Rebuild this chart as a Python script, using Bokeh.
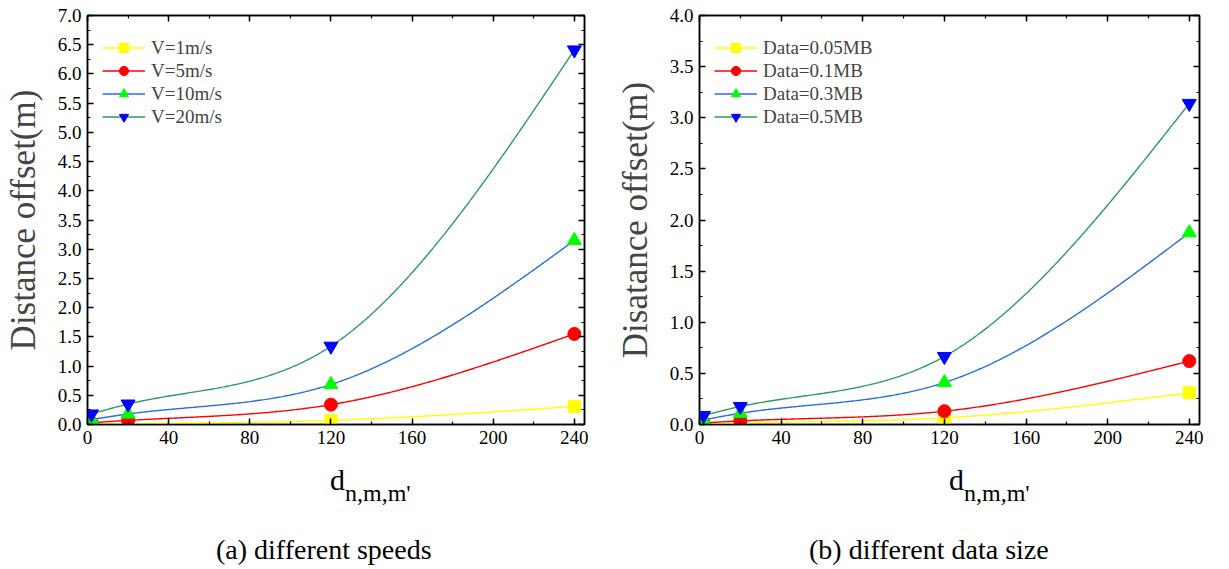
import numpy as np
from bokeh.plotting import figure
from bokeh.models import (LinearAxis, Range1d, Legend, LegendItem, Div,
                          SingleIntervalTicker, NumeralTickFormatter)
from bokeh.layouts import row, column
from bokeh.embed import file_html
from bokeh.resources import INLINE

# ---------------- data ----------------
x_vals = [2, 20, 120, 240]

speed_labels = ["V=1m/s", "V=5m/s", "V=10m/s", "V=20m/s"]
v1 = [0.005, 0.012, 0.07, 0.31]
v5 = [0.03, 0.07, 0.34, 1.55]
v10 = [0.085, 0.18, 0.685, 3.15]
v20 = [0.18, 0.35, 1.34, 6.41]

data_labels = ["Data=0.05MB", "Data=0.1MB", "Data=0.3MB", "Data=0.5MB"]
d005 = [0.005, 0.015, 0.065, 0.31]
d01 = [0.015, 0.035, 0.13, 0.62]
d03 = [0.045, 0.11, 0.41, 1.875]
d05 = [0.088, 0.176, 0.665, 3.14]

x_ticks_interval = 40
left_y_max = 7.0
right_y_max = 4.0

x_label_main = "d"
x_label_sub = "n,m,m'"
captions = ["(a) different speeds", "(b) different data size"]
y_labels = ["Distance offset(m)", "Disatance offset(m)"]

line_colors = ["#FFFF00", "#FF0000", "#2A6EE0", "#2E9B61"]
marker_colors = ["#FFFF00", "#FF0000", "#00FF00", "#0000FF"]
markers = ["square", "circle", "triangle", "inverted_triangle"]
marker_sizes = [12, 13, 14, 14]

FONT = "Liberation Serif"
FIG_H = 460
TOP = 15
FRAME_H = 409


def spline_path(xs, ys, n=300):
    """Natural cubic spline path through the data points (line rendering only)."""
    xs = np.asarray(xs, float)
    ys = np.asarray(ys, float)
    k = len(xs)
    h = np.diff(xs)
    A = np.zeros((k, k))
    b = np.zeros(k)
    A[0, 0] = A[-1, -1] = 1.0
    for i in range(1, k - 1):
        A[i, i - 1] = h[i - 1]
        A[i, i] = 2 * (h[i - 1] + h[i])
        A[i, i + 1] = h[i]
        b[i] = 3 * ((ys[i + 1] - ys[i]) / h[i] - (ys[i] - ys[i - 1]) / h[i - 1])
    c = np.linalg.solve(A, b)
    xx = np.linspace(xs[0], xs[-1], n)
    yy = np.empty_like(xx)
    for j, x in enumerate(xx):
        i = min(np.searchsorted(xs, x, side="right") - 1, k - 2)
        t = x - xs[i]
        bi = (ys[i + 1] - ys[i]) / h[i] - h[i] * (2 * c[i] + c[i + 1]) / 3
        di = (c[i + 1] - c[i]) / (3 * h[i])
        yy[j] = ys[i] + bi * t + c[i] * t ** 2 + di * t ** 3
    return xx, yy


def make_panel(series, labels, ymax, ylabel, width, border_left, border_right):
    p = figure(width=width, height=FIG_H, output_backend="svg",
               toolbar_location=None, x_range=Range1d(0, 245),
               y_range=Range1d(0, ymax),
               min_border_left=border_left, min_border_right=border_right,
               min_border_top=TOP, min_border_bottom=FIG_H - TOP - FRAME_H)
    p.grid.visible = False
    p.outline_line_color = "black"
    p.outline_line_width = 1.5
    p.background_fill_color = "white"
    p.border_fill_color = "white"

    def style(ax, labels_on=True):
        ax.axis_line_color = "black"
        ax.axis_line_width = 1.5
        ax.major_tick_in = 6
        ax.major_tick_out = 0
        ax.minor_tick_in = 3
        ax.minor_tick_out = 0
        ax.major_tick_line_width = 1.5
        ax.minor_tick_line_width = 1.2
        ax.major_tick_line_color = "black"
        ax.minor_tick_line_color = "black"
        ax.major_label_text_font = FONT
        if labels_on:
            ax.major_label_text_font_size = "19px"
            ax.major_label_text_color = "black"
        else:
            ax.major_label_text_font_size = "0px"
            ax.major_label_text_color = None

    p.xaxis.ticker = SingleIntervalTicker(interval=x_ticks_interval, num_minor_ticks=2)
    p.yaxis.ticker = SingleIntervalTicker(interval=0.5, num_minor_ticks=2)
    p.yaxis.formatter = NumeralTickFormatter(format="0.0")
    style(p.xaxis[0])
    style(p.yaxis[0])
    p.xaxis.major_label_standoff = 6
    p.yaxis.major_label_standoff = 6
    p.yaxis.axis_label = ylabel
    p.yaxis.axis_label_text_font = FONT
    p.yaxis.axis_label_text_font_size = "35px"
    p.yaxis.axis_label_text_font_style = "normal"
    p.yaxis.axis_label_standoff = 12

    top = LinearAxis(ticker=SingleIntervalTicker(interval=x_ticks_interval, num_minor_ticks=2))
    right = LinearAxis(ticker=SingleIntervalTicker(interval=0.5, num_minor_ticks=2))
    style(top, False)
    style(right, False)
    p.add_layout(top, "above")
    p.add_layout(right, "right")

    items = []
    for k, ys in enumerate(series):
        xx, yy = spline_path(x_vals, ys)
        lr = p.line(xx, yy, line_color=line_colors[k], line_width=1.4)
        sr = p.scatter(x_vals, ys, marker=markers[k], size=marker_sizes[k],
                       fill_color=marker_colors[k], line_color=marker_colors[k])
        items.append(LegendItem(label=labels[k], renderers=[lr, sr]))

    legend = Legend(items=items, location=(8, 289),
                    label_text_font=FONT, label_text_font_size="19px",
                    glyph_width=43, glyph_height=23, label_height=23,
                    spacing=0, padding=7, margin=0, label_standoff=6,
                    background_fill_alpha=0, border_line_alpha=0)
    p.add_layout(legend)
    return p


def make_text(width, d_left, cap_left, caption):
    html = (
        f'<div style="position:relative;width:{width}px;height:105px;'
        f'font-family:\'Liberation Serif\',serif;color:black;">'
        f'<span style="position:absolute;left:{d_left}px;top:5px;font-size:30px;'
        f'line-height:1;white-space:nowrap;">{x_label_main}'
        f'<span style="font-size:24px;position:relative;top:11px;">{x_label_sub}</span></span>'
        f'<span style="position:absolute;left:{cap_left}px;top:76px;font-size:28px;'
        f'line-height:1;white-space:nowrap;">{caption}</span>'
        f'</div>'
    )
    return Div(text=html, width=width, height=105, margin=0)


p1 = make_panel([v1, v5, v10, v20], speed_labels, left_y_max, y_labels[0],
                612, 77, 28)
p2 = make_panel([d005, d01, d03, d05], data_labels, right_y_max, y_labels[1],
                601, 87, 14)

t1 = make_text(612, 330, 216, captions[0])
t2 = make_text(601, 337, 197, captions[1])

layout = column(row(p1, p2, spacing=0), row(t1, t2, spacing=0), spacing=0)
open("out.html", "w").write(file_html(layout, INLINE))
